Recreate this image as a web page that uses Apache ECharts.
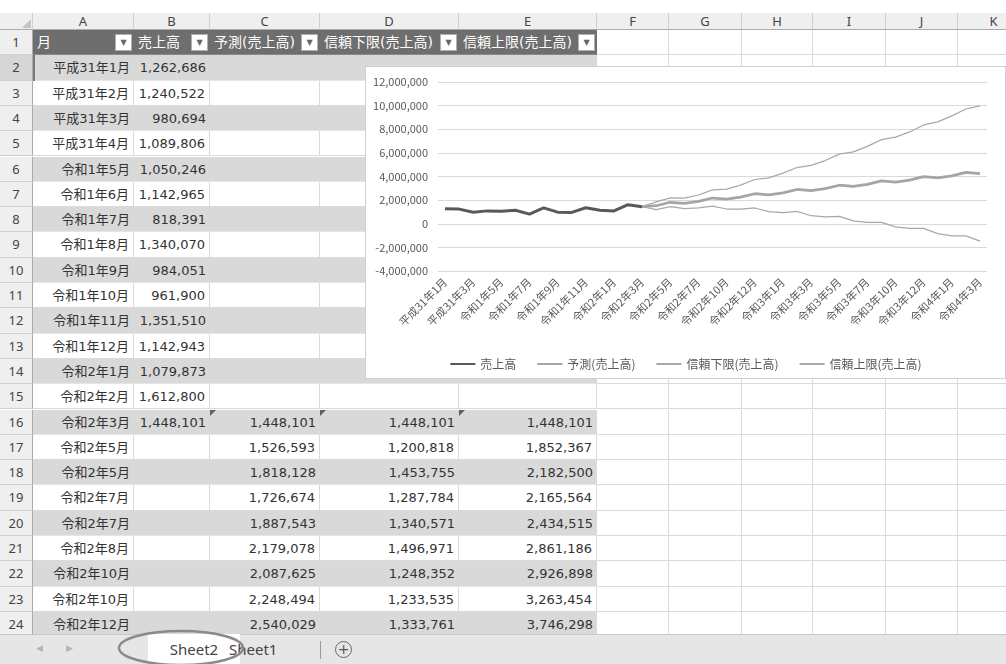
<!DOCTYPE html>
<html>
<head>
<meta charset="utf-8">
<script src="https://cdn.jsdelivr.net/npm/echarts@6/dist/echarts.min.js"></script>
<style>
  body { margin: 0; width: 1006px; height: 664px; overflow: hidden; background: #fff; position: relative;
         font-family: "DejaVu Sans", "Noto Sans CJK JP", sans-serif; }
  .c { position: absolute; box-sizing: border-box; font-size: 13px; color: #333; white-space: nowrap; overflow: hidden; }
  #chart { position: absolute; left: 365px; top: 66px; width: 641px; height: 313px; background: #fff;
           border: 1px solid #d0d0d0; box-sizing: border-box; z-index: 5; }
  #tabs { position: absolute; left: 0; top: 634px; width: 1006px; height: 30px; background: #e6e6e6;
          border-top: 1px solid #c8c8c8; box-sizing: border-box; z-index: 6; }
</style>
</head>
<body>
<div id="sheet"></div>
<div id="chart"></div>
<div id="tabs">
  <div class="c" style="left:36px;top:8px;font-size:9px;color:#b5b5b5">◀</div>
  <div class="c" style="left:66px;top:8px;font-size:9px;color:#b5b5b5">▶</div>
  <div class="c" style="left:148px;top:-1px;width:92px;height:30px;background:#fff;text-align:center;line-height:30px;font-family:'Noto Sans';font-size:15px;color:#444">Sheet2</div>
  <div class="c" style="left:229px;top:-1px;line-height:30px;font-family:'Noto Sans';font-size:15px;color:#444">Sheet1</div>
  <div class="c" style="left:320px;top:6px;width:1px;height:18px;background:#9a9a9a"></div>
  <div class="c" style="left:335px;top:6px;width:17px;height:17px;border:1px solid #666;border-radius:50%;text-align:center;line-height:14px;font-size:14px;color:#555">+</div>
</div>
<svg style="position:absolute;left:0;top:0;z-index:7" width="1006" height="664">
  <ellipse cx="181" cy="648" rx="62" ry="17" fill="none" stroke="#8a8a8a" stroke-width="2.5"/>
</svg>
<script>
// categories (x axis) and table column A
const months = [
  '平成31年1月', '平成31年2月', '平成31年3月', '平成31年4月', '令和1年5月', '令和1年6月',
  '令和1年7月', '令和1年8月', '令和1年9月', '令和1年10月', '令和1年11月', '令和1年12月',
  '令和2年1月', '令和2年2月', '令和2年3月', '令和2年5月', '令和2年5月', '令和2年7月',
  '令和2年7月', '令和2年8月', '令和2年10月', '令和2年10月', '令和2年12月', '令和2年12月',
  '令和3年1月', '令和3年2月', '令和3年3月', '令和3年4月', '令和3年5月', '令和3年6月',
  '令和3年7月', '令和3年8月', '令和3年10月', '令和3年10月', '令和3年12月', '令和3年12月',
  '令和4年1月', '令和4年2月', '令和4年3月'
]
const headers = ['月', '売上高', '予測(売上高)', '信頼下限(売上高)', '信頼上限(売上高)']
const colLetters = ['A', 'B', 'C', 'D', 'E', 'F', 'G', 'H', 'I', 'J', 'K']

// 売上高 (actual)
const sales = [1262686, 1240522, 980694, 1089806, 1050246, 1142965, 818391, 1340070,
  984051, 961900, 1351510, 1142943, 1079873, 1612800, 1448101]
// forecast columns start at 令和2年3月
const forecastStart = 14
const forecast = [1448101, 1526593, 1818128, 1726674, 1887543, 2179078, 2087625, 2248494,
  2540029, 2448600, 2609500, 2901000, 2809500, 2970400, 3261900, 3170400, 3331300, 3622800,
  3531300, 3692200, 3983700, 3892200, 4053100, 4344600, 4253100]
const lower = [1448101, 1200818, 1453755, 1287784, 1340571, 1496971, 1248352, 1233535,
  1333761, 1018600, 939500, 1041000, 679500, 590400, 631900, 250400, 111300, 122800,
  -268700, -387800, -396300, -837800, -1026900, -1025400, -1466900]
const upper = [1448101, 1852367, 2182500, 2165564, 2434515, 2861186, 2926898, 3263454,
  3746298, 3878600, 4279500, 4761000, 4939500, 5350400, 5891900, 6090400, 6551300, 7122800,
  7331300, 7772200, 8363700, 8622200, 9133100, 9714600, 9973100]
const yTicks = { min: -4000000, max: 12000000, interval: 2000000 }

const fmt = v => v.toLocaleString('en-US')
const pad = arr => new Array(forecastStart).fill(null).concat(arr)

// ---------- spreadsheet ----------
const sheet = document.getElementById('sheet')
const colX = [0, 33, 134, 210, 320, 459, 597, 669, 742, 813, 886, 958, 1030]
const rowH = 25.3
const rowTop = n => 30 + (n - 1) * rowH

function cell(x, y, w, h, text, css) {
  const d = document.createElement('div')
  d.className = 'c'
  d.style.cssText = `left:${x}px;top:${y}px;width:${w}px;height:${h}px;line-height:${h}px;` + (css || '')
  if (text !== undefined && text !== null) d.textContent = text
  sheet.appendChild(d)
  return d
}

// corner + column letters
cell(0, 13, 33, 17, '', 'background:#efefef;border-right:1px solid #cfcfcf;border-bottom:1px solid #ababab')
cell(22, 19, 0, 0, '', 'border-left:9px solid transparent;border-bottom:9px solid #c4c4c4')
colLetters.forEach((l, k) => {
  cell(colX[k + 1], 13, colX[k + 2] - colX[k + 1], 17, l,
    'background:#efefef;border-right:1px solid #cfcfcf;border-bottom:1px solid #ababab;text-align:center;color:#444;font-family:"Noto Sans";font-size:13px')
})

for (let n = 1; n <= 24; n++) {
  const y = rowTop(n)
  cell(0, y, 33, rowH, n, 'background:' + (n === 2 ? '#d6d6d6' : '#efefef') +
    ';border-right:1px solid #ababab;border-bottom:1px solid #d0d0d0;text-align:center;color:#444;font-family:"Noto Sans"')
  for (let k = 0; k < 11; k++) {
    const x = colX[k + 1], w = colX[k + 2] - colX[k + 1]
    if (k >= 5) {
      cell(x, y, w, rowH, '', 'background:#fff;border-right:1px solid #dadada;border-bottom:1px solid #dadada')
      continue
    }
    if (n === 1) {
      const d = cell(x, y, w, rowH, headers[k],
        'background:#6e6e6e;color:#fff;padding-left:4px;border-bottom:1px solid #8a8a8a;font-size:14px')
      const b = document.createElement('div')
      b.className = 'c'
      b.style.cssText = 'right:2px;top:4px;width:17px;height:17px;background:#fff;border:1px solid #b0b0b0;' +
        'text-align:center;line-height:16px;font-size:8px;color:#666'
      b.textContent = '▼'
      d.appendChild(b)
      continue
    }
    const i = n - 2
    let v = ''
    if (k === 0) v = months[i]
    if (k === 1 && sales[i] !== undefined) v = fmt(sales[i])
    if (k >= 2 && i >= forecastStart) v = fmt([forecast, lower, upper][k - 2][i - forecastStart])
    const band = n % 2 === 0
    cell(x, y, w, rowH, v, 'text-align:right;padding-right:4px;background:' + (band ? '#d9d9d9' : '#fff') +
      ';border-bottom:1px solid ' + (band ? '#e6e6e6' : '#dadada') +
      (band ? '' : ';border-right:1px solid #dadada'))
    if (i === forecastStart && k >= 2) {
      cell(x, y, 0, 0, '', 'border-top:6px solid #606060;border-right:6px solid transparent')
    }
  }
}
// selected cell marker A2
cell(33, rowTop(2), 2, rowH, '', 'background:#7a7a7a')

// ---------- chart ----------
const font = '"Noto Sans CJK JP", sans-serif'
const option = {
  animation: false,
  textStyle: { fontFamily: font },
  grid: { left: 72, right: 18, top: 15, bottom: 107 },
  legend: {
    top: 286,
    left: 'center',
    itemWidth: 25,
    itemHeight: 10,
    itemGap: 20,
    itemStyle: { opacity: 0 },
    textStyle: { fontSize: 12, color: '#595959', fontFamily: font },
    data: ['売上高', '予測(売上高)', '信頼下限(売上高)', '信頼上限(売上高)']
  },
  xAxis: {
    type: 'category',
    data: months,
    boundaryGap: true,
    axisLine: { show: false },
    axisTick: { show: false },
    axisLabel: { interval: 1, rotate: 45, fontSize: 11, color: '#595959', margin: 9, fontFamily: font }
  },
  yAxis: {
    type: 'value',
    min: yTicks.min,
    max: yTicks.max,
    interval: yTicks.interval,
    axisLine: { show: false },
    axisTick: { show: false },
    axisLabel: { fontSize: 11, color: '#595959', margin: 10, formatter: fmt, fontFamily: font },
    splitLine: { lineStyle: { color: '#d9d9d9', width: 1 } }
  },
  series: [
    {
      name: '売上高', type: 'line', data: sales, symbol: 'none',
      lineStyle: { color: '#595959', width: 3 }, itemStyle: { color: '#595959' }
    },
    {
      name: '予測(売上高)', type: 'line', data: pad(forecast), symbol: 'none',
      lineStyle: { color: '#a5a5a5', width: 2.75 }, itemStyle: { color: '#a5a5a5' }
    },
    {
      name: '信頼下限(売上高)', type: 'line', data: pad(lower), symbol: 'none',
      lineStyle: { color: '#a8a8a8', width: 1.25 }, itemStyle: { color: '#a8a8a8' }
    },
    {
      name: '信頼上限(売上高)', type: 'line', data: pad(upper), symbol: 'none',
      lineStyle: { color: '#a8a8a8', width: 1.25 }, itemStyle: { color: '#a8a8a8' }
    }
  ]
}
const chart = echarts.init(document.getElementById('chart'))
chart.setOption(option)
window.addEventListener('resize', () => chart.resize())
</script>
</body>
</html>
